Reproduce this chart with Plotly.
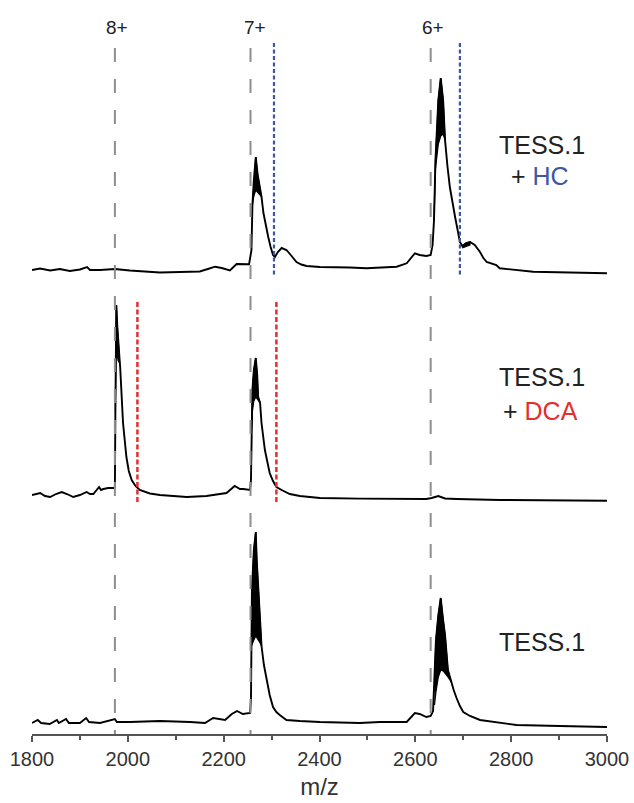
import plotly.graph_objects as go

# ---------------- data ----------------
# TESS.1 (bottom spectrum): m/z and intensity (a.u.)
mz_tess = [1800, 1812, 1819, 1837, 1852, 1856, 1871, 1877, 1900, 1913,
           1919, 1942, 1973, 1977, 2004, 2067, 2130, 2161, 2178, 2203,
           2217, 2228, 2240, 2255, 2257, 2258, 2259, 2263, 2267, 2269,
           2272, 2276, 2279, 2284, 2290, 2296, 2303, 2310, 2317, 2331,
           2359, 2401, 2484, 2526, 2568, 2582, 2599, 2609, 2623, 2632,
           2637, 2640, 2643, 2648, 2653, 2658, 2662, 2668, 2675, 2680,
           2686, 2693, 2700, 2714, 2735, 2776, 2811, 2901, 3000]
int_tess = [4, 7, 4, 3, 7, 4, 8, 4, 4, 9,
            5, 4, 8, 5, 5, 6, 5, 4, 9, 7,
            13, 16, 13, 14, 27, 81, 137, 177, 195, 167,
            140, 107, 81, 62, 47, 32, 20, 15, 12, 7,
            6, 5, 4, 5, 5, 5, 14, 13, 10, 11,
            16, 47, 87, 112, 129, 107, 92, 57, 45, 37,
            29, 21, 15, 11, 7, 4, 2, 1, 0]
# unresolved (dense) regions of the TESS.1 peaks: upper / lower envelope
tess_7_mz = [2258, 2259, 2263, 2267, 2269, 2272, 2276, 2279]
tess_7_hi = [81, 137, 177, 195, 167, 140, 107, 81]
tess_7_lo = [81, 83, 87, 91, 89, 87, 84, 81]
tess_6_mz = [2640, 2643, 2648, 2653, 2658, 2662, 2668, 2675]
tess_6_hi = [47, 87, 112, 129, 107, 92, 57, 45]
tess_6_lo = [22, 35, 50, 57, 56, 54, 50, 45]

# TESS.1 + DCA (middle spectrum)
mz_dca = [1800, 1817, 1827, 1838, 1850, 1862, 1873, 1886, 1900, 1914,
          1921, 1928, 1940, 1944, 1949, 1959, 1970, 1973, 1974, 1975,
          1976, 1978, 1980, 1983, 1984, 1990, 1997, 2002, 2008, 2016,
          2025, 2046, 2067, 2123, 2164, 2192, 2206, 2223, 2234, 2241,
          2255, 2257, 2258, 2260, 2263, 2267, 2270, 2272, 2276, 2279,
          2286, 2293, 2296, 2303, 2310, 2323, 2338, 2359, 2401, 2484,
          2568, 2623, 2634, 2640, 2648, 2662, 2686, 2776, 3000]
int_dca = [6, 8, 5, 4, 7, 9, 7, 4, 6, 9,
           7, 7, 14, 11, 12, 13, 13, 14, 90, 170,
           196, 175, 155, 140, 134, 78, 44, 30, 21, 15,
           11, 7.5, 6, 4, 5, 7, 8, 15, 12, 12,
           11, 21, 71, 111, 131, 143, 126, 104, 98, 78,
           51, 34, 28, 20, 14, 10.5, 7, 5, 3, 2.4,
           2, 2, 3, 4, 5, 2.5, 2, 1, 0.3]
dca_8_mz = [1974, 1975, 1976, 1978, 1980, 1983]
dca_8_hi = [90, 170, 196, 175, 155, 140]
dca_8_lo = [90, 140, 150, 145, 140, 138]
dca_7_mz = [2258, 2260, 2263, 2267, 2270, 2272, 2276]
dca_7_hi = [71, 111, 131, 143, 126, 104, 98]
dca_7_lo = [71, 90, 100, 104, 102, 100, 98]

# TESS.1 + HC (top spectrum)
mz_hc = [1800, 1817, 1838, 1858, 1879, 1900, 1915, 1921, 1942, 1973,
         2004, 2067, 2109, 2150, 2167, 2182, 2196, 2213, 2227, 2240,
         2253, 2258, 2260, 2263, 2267, 2271, 2276, 2279, 2283, 2288,
         2293, 2298, 2303, 2307, 2313, 2321, 2331, 2340, 2352, 2362,
         2373, 2401, 2429, 2463, 2498, 2526, 2561, 2582, 2591, 2599,
         2609, 2623, 2632, 2636, 2639, 2642, 2648, 2653, 2658, 2662,
         2667, 2672, 2683, 2693, 2698, 2706, 2714, 2724, 2735, 2742,
         2749, 2769, 2776, 2846, 2922, 3000]
int_hc = [4, 5.5, 3.5, 5, 3, 4.5, 7, 4, 4, 5,
          3.5, 1.5, 2, 2.5, 5, 7.3, 6, 3.5, 10, 9.5,
          9.7, 24, 69, 94, 117, 99, 86, 77, 61, 48,
          37, 27, 19, 17, 22, 26, 24, 19, 12, 9.5,
          8, 7, 7, 6.5, 5.7, 6.5, 7.3, 10.7, 16, 20.7,
          19, 18, 19, 29, 54, 114, 174, 196, 174, 134,
          108, 87, 57, 32, 28, 31, 32, 29, 22, 16,
          12, 9, 5.7, 2.3, 1.5, 0.7]
hc_7_mz = [2260, 2263, 2267, 2271, 2276, 2279]
hc_7_hi = [69, 94, 117, 99, 86, 77]
hc_7_lo = [69, 78, 84, 82, 79, 77]
hc_6_mz = [2639, 2642, 2648, 2653, 2658, 2662]
hc_6_hi = [54, 114, 174, 196, 174, 134]
hc_6_lo = [54, 105, 130, 138, 140, 134]
hc_sh_mz = [2698, 2706, 2714]
hc_sh_hi = [28, 31, 32]
hc_sh_lo = [26, 27.5, 29]

# charge-state positions (m/z) and ligand-adduct positions
charge_labels = ["8+", "7+", "6+"]
charge_mz = [1973, 2256, 2632]
charge_label_mz = [1977, 2265, 2636]
hc_adduct_mz = [2305, 2693]
dca_adduct_mz = [2020, 2310]

# ---------------- styling / layout constants ----------------
OFF_TESS, OFF_DCA, OFF_HC = 0, 226, 453
BLUE = "#3d57a3"
RED = "#e2302d"
GRAY = "#8e8e8e"
FONT = "Liberation Sans, Arial, sans-serif"

fig = go.Figure()


def add_spectrum(mz, inten, bands, offset):
    fig.add_trace(go.Scatter(
        x=mz, y=[v + offset for v in inten], mode="lines",
        line=dict(color="black", width=1.9),
        hoverinfo="skip", showlegend=False))
    for bx, hi, lo in bands:
        fig.add_trace(go.Scatter(
            x=bx + bx[::-1],
            y=[v + offset for v in hi] + [v + offset for v in lo[::-1]],
            mode="lines", fill="toself", fillcolor="black",
            line=dict(color="black", width=1.2),
            hoverinfo="skip", showlegend=False))


add_spectrum(mz_tess, int_tess,
             [(tess_7_mz, tess_7_hi, tess_7_lo), (tess_6_mz, tess_6_hi, tess_6_lo)],
             OFF_TESS)
add_spectrum(mz_dca, int_dca,
             [(dca_8_mz, dca_8_hi, dca_8_lo), (dca_7_mz, dca_7_hi, dca_7_lo)],
             OFF_DCA)
add_spectrum(mz_hc, int_hc,
             [(hc_7_mz, hc_7_hi, hc_7_lo), (hc_6_mz, hc_6_hi, hc_6_lo),
              (hc_sh_mz, hc_sh_hi, hc_sh_lo)],
             OFF_HC)

# charge-state guides
for x in charge_mz:
    fig.add_shape(type="line", x0=x, x1=x, y0=679, y1=-7, xref="x", yref="y",
                  line=dict(color=GRAY, width=2, dash="14px,17px"), layer="above")
# HC adduct guides (top spectrum)
for x in hc_adduct_mz:
    fig.add_shape(type="line", x0=x, x1=x, y0=684, y1=452, xref="x", yref="y",
                  line=dict(color=BLUE, width=2.2, dash="4px,2.5px"), layer="above")
# DCA adduct guides (middle spectrum)
for x in dca_adduct_mz:
    fig.add_shape(type="line", x0=x, x1=x, y0=425, y1=225, xref="x", yref="y",
                  line=dict(color=RED, width=2.5, dash="5px,2.5px"), layer="above")

annotations = []
for lab, x in zip(charge_labels, charge_label_mz):
    annotations.append(dict(x=x, y=700, text=lab, showarrow=False,
                            font=dict(size=19, color="#222", family=FONT)))

sample_labels = [
    (2864, 582, "TESS.1"),
    (2860, 551, "+ <span style='color:%s'>HC</span>" % BLUE),
    (2864, 350, "TESS.1"),
    (2862, 316, "+ <span style='color:%s'>DCA</span>" % RED),
    (2864, 85, "TESS.1"),
]
for x, y, t in sample_labels:
    annotations.append(dict(x=x, y=y, text=t, showarrow=False, height=24,
                            valign="middle", borderpad=0,
                            font=dict(size=25, color="#222", family=FONT)))

fig.update_layout(
    width=634, height=803,
    margin=dict(l=32, r=27, t=0, b=69),
    paper_bgcolor="white", plot_bgcolor="white",
    showlegend=False,
    font=dict(family=FONT, color="#333"),
    annotations=annotations,
    xaxis=dict(
        range=[1800, 3000], tickmode="linear", tick0=1800, dtick=200,
        ticks="outside", ticklen=6, tickwidth=1.5, tickcolor="#555",
        minor=dict(dtick=100, ticks="outside", ticklen=4, tickwidth=1.5, tickcolor="#555"),
        showline=True, linecolor="#555", linewidth=1.5,
        showgrid=False, zeroline=False,
        tickfont=dict(size=20, color="#333", family=FONT),
        title=dict(text="m/z", font=dict(size=24, color="#333", family=FONT), standoff=9),
    ),
    yaxis=dict(range=[-7, 727], visible=False, fixedrange=True),
)

fig.write_html("out.html")
